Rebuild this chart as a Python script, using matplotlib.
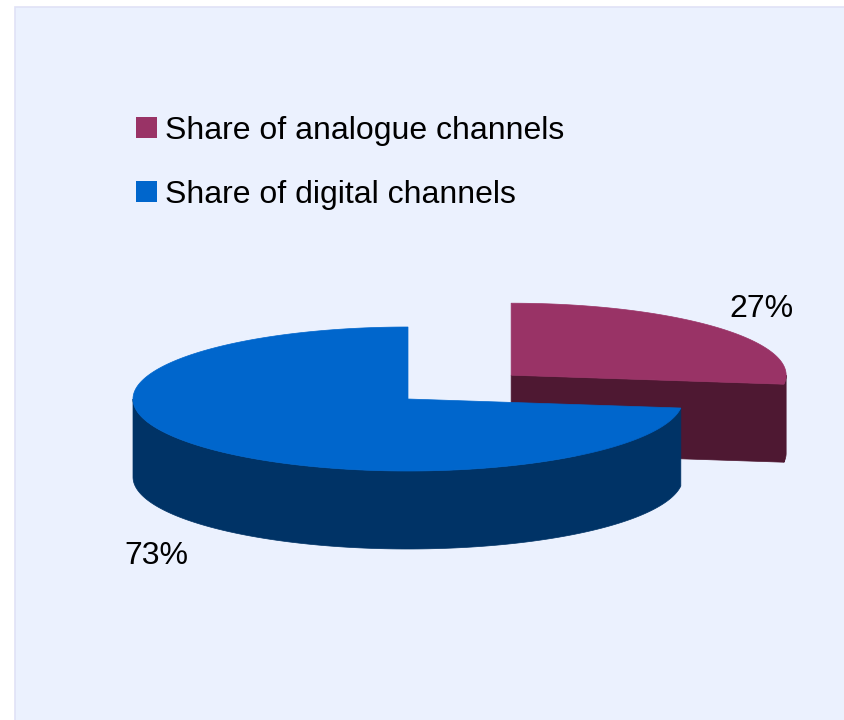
import numpy as np
import matplotlib
matplotlib.use("Agg")
import matplotlib.pyplot as plt
from matplotlib.patches import Polygon, Rectangle

# ---- data ----
categories = ["Share of analogue channels", "Share of digital channels"]
values = [27, 73]
pct_labels = ["27%", "73%"]
top_colors = ["#993366", "#0066CC"]
side_colors = ["#4E1832", "#003366"]
explode = [0.5, 0.0]

W, H = 845, 720
fig = plt.figure(figsize=(W / 100, H / 100), dpi=100)
fig.patch.set_facecolor("white")
ax = fig.add_axes([0, 0, 1, 1])
ax.set_xlim(0, W)
ax.set_ylim(H, 0)
ax.axis("off")

# panel background
ax.add_patch(Rectangle((15.5, 6.5), W + 20, H + 20, facecolor="#EBF1FE",
                       edgecolor="#E0E2F6", linewidth=1.2, zorder=0))

# pie geometry (pixel space)
cx, cy = 408, 399
rx, ry = 275, 72
depth = 78

def pt(c, t, dz=0):
    return (c[0] + rx * np.cos(np.radians(t)), c[1] - ry * np.sin(np.radians(t)) + dz)

total = float(sum(values))
start = 90.0
slices = []
for v, e in zip(values, explode):
    sweep = 360.0 * v / total
    t2 = start
    t1 = start - sweep
    mid = (t1 + t2) / 2
    c = (cx + e * rx * np.cos(np.radians(mid)), cy - e * ry * np.sin(np.radians(mid)))
    slices.append((t1, t2, c, mid))
    start = t1

z = 1
for i, (t1, t2, c, mid) in enumerate(slices):
    # radial faces
    for t, sgn in ((t1, -1), (t2, 1)):
        nrm = t + sgn * 90
        if np.sin(np.radians(nrm)) < -1e-6:
            p = pt(c, t)
            poly = [c, p, (p[0], p[1] + depth), (c[0], c[1] + depth)]
            ax.add_patch(Polygon(poly, closed=True, facecolor=side_colors[i],
                                 edgecolor=side_colors[i], linewidth=0.5, zorder=z))
    # outer side (front half only)
    for k in range(-2, 3):
        a = max(t1, 180 + 360 * k)
        b = min(t2, 360 + 360 * k)
        if b > a:
            ts = np.linspace(a, b, 200)
            upper = [pt(c, t) for t in ts]
            lower = [pt(c, t, depth) for t in ts[::-1]]
            ax.add_patch(Polygon(upper + lower, closed=True, facecolor=side_colors[i],
                                 edgecolor=side_colors[i], linewidth=0.5, zorder=z))
    # top face
    ts = np.linspace(t1, t2, 400)
    poly = [c] + [pt(c, t) for t in ts]
    ax.add_patch(Polygon(poly, closed=True, facecolor=top_colors[i],
                         edgecolor=top_colors[i], linewidth=0.5, zorder=z + 0.5))
    z += 1

font = "Liberation Sans"
fs = 23
# percentage labels
ax.text(761, 309, pct_labels[0], fontsize=fs, family=font, ha="center", va="center", zorder=5)
ax.text(156, 556, pct_labels[1], fontsize=fs, family=font, ha="center", va="center", zorder=5)

# legend
leg_y = [127.5, 191.5]
for lab, col, y in zip(categories, top_colors, leg_y):
    ax.add_patch(Rectangle((136, y - 10.5), 21, 21, facecolor=col, edgecolor="none", zorder=5))
    ax.text(165, y + 3, lab, fontsize=fs, family=font, ha="left", va="center", zorder=5)

fig.savefig("out.png", dpi=100, facecolor=fig.get_facecolor())
